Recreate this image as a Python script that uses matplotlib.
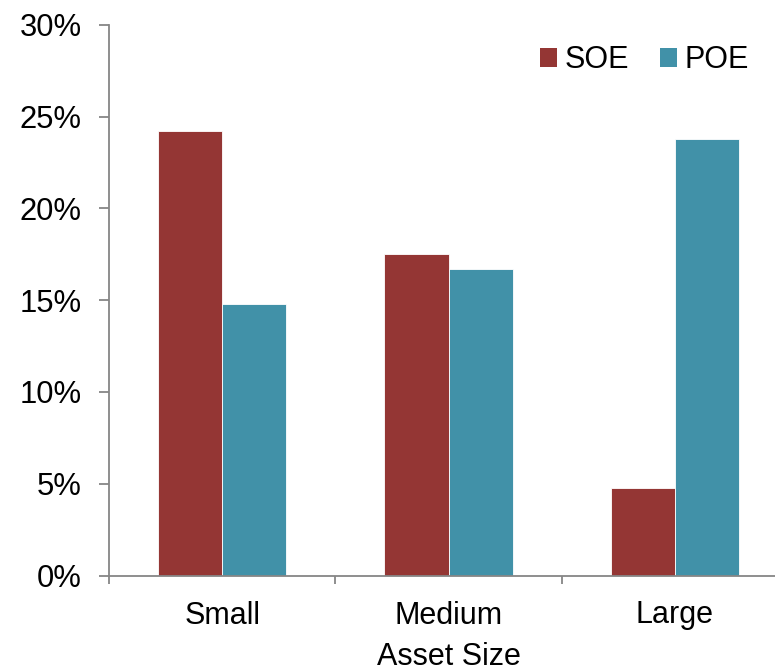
import matplotlib.pyplot as plt
import numpy as np
from matplotlib.patches import Patch
from matplotlib.ticker import FixedLocator, PercentFormatter

plt.rcParams['font.family'] = ['Liberation Sans', 'DejaVu Sans']

categories = ['Small', 'Medium', 'Large']
soe = [24.2, 17.5, 4.75]
poe = [14.8, 16.7, 23.8]
series_names = ['SOE', 'POE']
colors = ['#943634', '#4191A8']

fig = plt.figure(figsize=(7.75, 6.72), dpi=100)
ax = fig.add_axes([109/775, 1-575.5/672, (788-109)/775, (575.5-24.7)/672])

x = np.arange(len(categories))
w = 0.283
ax.bar(x - w/2, soe, w, color=colors[0], edgecolor='white', linewidth=0.6)
ax.bar(x + w/2, poe, w, color=colors[1], edgecolor='white', linewidth=0.6)

ax.set_xlim(-0.5, len(categories) - 0.5)
ax.set_ylim(0, 30)
ax.set_yticks(np.arange(0, 31, 5))
ax.yaxis.set_major_formatter(PercentFormatter(decimals=0))

# ticks on group boundaries, labels centred
ax.xaxis.set_major_locator(FixedLocator(np.arange(-0.5, len(categories), 1)))
ax.xaxis.set_major_formatter(plt.NullFormatter())
ax.xaxis.set_minor_locator(FixedLocator(x))
ax.set_xticklabels(categories, minor=True)

for s in ['top', 'right']:
    ax.spines[s].set_visible(False)
for s in ['left', 'bottom']:
    ax.spines[s].set_color('#868686')
    ax.spines[s].set_linewidth(1.3)

ax.tick_params(axis='y', which='major', length=7, width=1.3, color='#868686',
               labelsize=22.3, pad=12.5)
ax.tick_params(axis='x', which='major', length=6, width=1.3, color='#868686')
ax.tick_params(axis='x', which='minor', length=0, labelsize=22, pad=18)

ax.set_xlabel('Asset Size', fontsize=22, labelpad=8)

handles = [Patch(facecolor=c, edgecolor='none') for c in colors]
fig.legend(handles, series_names, loc='center right', bbox_to_anchor=(749/775, 1-60/672),
           ncol=2, frameon=False, fontsize=22, handlelength=0.56, handleheight=0.56,
           handletextpad=0.25, columnspacing=1.0, borderaxespad=0, borderpad=0)

fig.savefig('out.png', dpi=100)
